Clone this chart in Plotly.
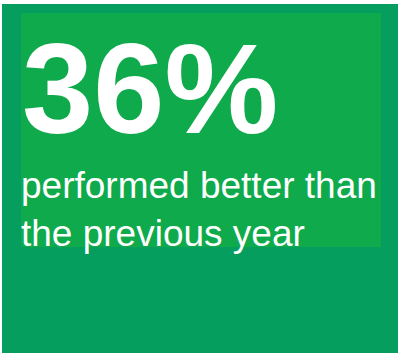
import plotly.graph_objects as go

# Headline figure and the caption beneath it
share_value = [36]
value_suffix = ["%"]
caption_lines = ["performed better than", "the previous year"]

W, H = 398, 353
outer_green = "#069E5F"
panel_green = "#0EAA4B"

fig = go.Figure()

# Outer tile and inner highlight panel
fig.add_shape(type="rect", x0=2, x1=398, y0=4, y1=353,
              fillcolor=outer_green, line_width=0, layer="below")
fig.add_shape(type="rect", x0=21, x1=381, y0=13, y1=247,
              fillcolor=panel_green, line_width=0, layer="below")

fig.add_annotation(
    x=20, y=88, xanchor="left", yanchor="middle",
    text=f"<b>{share_value[0]}{value_suffix[0]}</b>",
    showarrow=False, align="left",
    font=dict(family="Liberation Sans, Arial, sans-serif", size=128, color="white"),
)

fig.add_annotation(
    x=19, y=209, xanchor="left", yanchor="middle",
    text="<br>".join(caption_lines),
    showarrow=False, align="left",
    font=dict(family="Liberation Sans, Arial, sans-serif", size=37, color="white"),
)

fig.update_layout(
    width=W, height=H,
    margin=dict(l=0, r=0, t=0, b=0),
    paper_bgcolor="white", plot_bgcolor="white",
    xaxis=dict(range=[0, W], visible=False, fixedrange=True),
    yaxis=dict(range=[H, 0], visible=False, fixedrange=True),
    showlegend=False,
)

fig.write_html("out.html", config={"displayModeBar": False})
